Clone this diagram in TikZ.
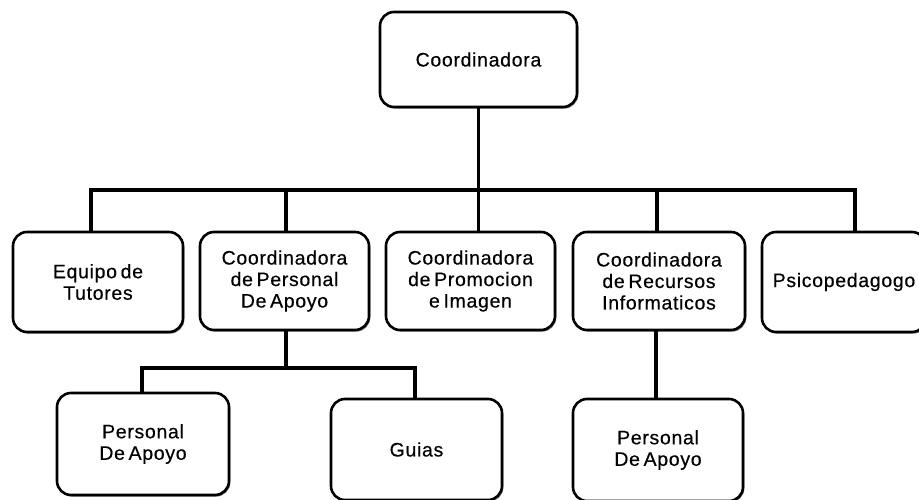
\documentclass[tikz,border=0pt]{standalone}
\usepackage{fontspec}
\setmainfont{Liberation Sans}
\newfontfamily\boxfont{Liberation Sans}[LetterSpace=3.5, FakeBold=0.4, WordSpace=0.6]
\usetikzlibrary{shadows}
\begin{document}
\begin{tikzpicture}[x=1pt,y=1pt,
  box/.style={draw=black, line width=2.6pt, rounded corners=14pt, fill=white,
    align=center, inner sep=2pt,
    font=\boxfont\fontsize{19.5}{21.5}\selectfont,
    drop shadow={shadow xshift=1.3pt, shadow yshift=-1.6pt, fill=black!55, opacity=0.9}},
  conn/.style={draw=black, line width=3.6pt}]
\useasboundingbox (0,0) rectangle (919,-500);
\fill[white] (0,0) rectangle (919,-500);

\node[box, minimum width=197pt, minimum height=95pt] (top) at (478.5,-59.5) {Coordinadora};

\node[box, minimum width=170pt, minimum height=100pt] (eq) at (98,-282) {Equipo de\\Tutores};
\node[box, minimum width=169pt, minimum height=98pt] (cp) at (284.5,-281) {Coordinadora\\de Personal\\De Apoyo};
\node[box, minimum width=169pt, minimum height=98pt] (prom) at (470.5,-281) {Coordinadora\\de Promocion\\e Imagen};
\node[box, minimum width=172pt, minimum height=98pt] (cr) at (659,-281) {Coordinadora\\de Recursos\\Informaticos};
\node[box, minimum width=164pt, minimum height=100pt] (psi) at (844,-282) {Psicopedagogo};

\node[box, minimum width=172pt, minimum height=102pt] (pa1) at (143,-444) {Personal\\De Apoyo};
\node[box, minimum width=171pt, minimum height=101pt] (gu) at (416.5,-449.5) {Guias};
\node[box, minimum width=170pt, minimum height=102pt] (pa2) at (658,-450) {Personal\\De Apoyo};

\coordinate (bar) at (0,-190);
\coordinate (bar2) at (0,-368);

\draw[conn] (top.south) -- (top.south |- prom.north);
\draw[conn] ([xshift=-7pt]eq.north) -- ([xshift=-7pt]eq.north |- bar) -- ([xshift=11pt]psi.north |- bar) -- ([xshift=11pt]psi.north);
\draw[conn] ([xshift=1.5pt]cp.north) -- ([xshift=1.5pt]cp.north |- bar);
\draw[conn] ([xshift=-2pt]cr.north) -- ([xshift=-2pt]cr.north |- bar);

\draw[conn] ([xshift=1.5pt]cp.south) -- ([xshift=1.5pt]cp.south |- bar2);
\draw[conn] ([xshift=-1pt]pa1.north) -- ([xshift=-1pt]pa1.north |- bar2) -- ([xshift=-1.5pt]gu.north |- bar2) -- ([xshift=-1.5pt]gu.north);
\draw[conn] ([xshift=-2pt]pa2.north |- cr.south) -- ([xshift=-2pt]pa2.north);
\end{tikzpicture}
\end{document}
